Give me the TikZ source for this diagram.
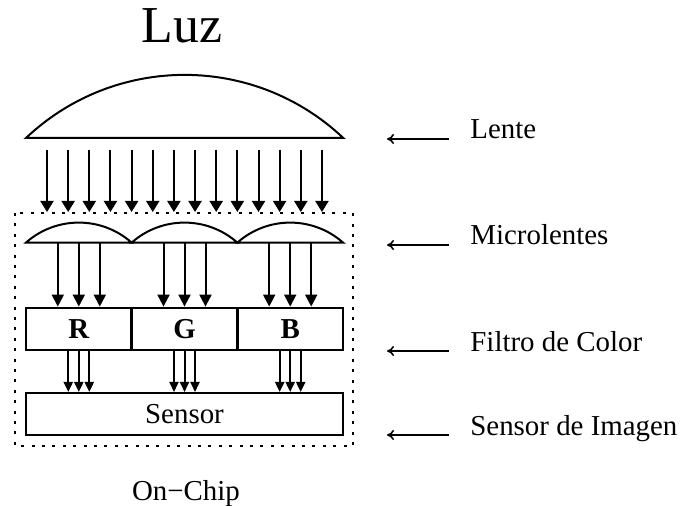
\documentclass[tikz,border=0pt]{standalone}
\usepackage{fontspec}
\setmainfont{Liberation Serif}
\usetikzlibrary{positioning, arrows.meta, calc}
\tikzset{
  % --- optics ---
  lensline/.style={line width=1bp},
  ray/.style={-{Triangle[length=5.5bp, width=6.5bp]}, line width=1bp},
  microray/.style={-{Triangle[length=6bp, width=6bp]}, line width=1bp},
  subray/.style={-{Triangle[length=5bp, width=4.5bp]}, line width=1bp},
  % --- chip layers ---
  filterbox/.style={draw, line width=1.4bp, minimum width=52.8bp, minimum height=21bp,
    inner sep=0pt, font=\fontsize{14.5}{17}\selectfont\bfseries},
  sensorbox/.style={draw, line width=1bp, minimum width=158.5bp, minimum height=21bp,
    inner sep=0pt, font=\fontsize{14.5}{17}\selectfont},
  chipframe/.style={dash pattern=on 1.5bp off 3.7bp, line width=1bp},
  % --- side labels ---
  layerlabel/.style={anchor=base west, inner sep=0pt, font=\fontsize{14.5}{17}\selectfont},
  pointer/.style={-{To[length=3.5bp, width=5bp]}, line width=0.8bp},
}

\begin{document}
\begin{tikzpicture}[x=0.5bp, y=-0.5bp]
    \useasboundingbox (0,0) rectangle (685,506);
    % title
    \node[anchor=base, inner sep=0pt, font=\fontsize{26}{31}\selectfont] (luz) at (182,43) {Luz};
    % main lens
    \coordinate (lensL) at (26,138);
    \draw[lensline] (lensL) arc[start angle=-133.4, end angle=-46.6, radius=230.9] -- cycle;
    \foreach \i in {0,...,13}{
      \coordinate (r\i) at (47+21.15*\i,150);
      \coordinate (s\i) at (47+21.15*\i,212);
      \draw[ray] (r\i) -- (s\i); }
    % on-chip frame
    \draw[chipframe] (15,213) rectangle (353,446);
    % filters and sensor
    \node[filterbox] (R) at (78.8,329)  {R};
    \node[filterbox] (G) at (184.5,329) {G};
    \node[filterbox] (B) at (290.2,329) {B};
    \node[sensorbox] (sensor) at (184.5,414) {Sensor};
    % microlenses
    \foreach \f in {R,G,B}{
      \coordinate (m\f) at ($(\f.north)+(0,-64)$);
      \draw[lensline] ($(m\f)+(-52.8,0)$) arc[start angle=-131.5, end angle=-48.5, radius=79.7] -- cycle;
      \foreach \dx in {-21,0,21}{
        \draw[microray] ($(m\f)+(\dx,0)$) -- ($(\f.north)+(\dx,0)$); }
      \foreach \dx in {-10.5,0,10.5}{
        \draw[subray] ($(\f.south)+(\dx,0)$) -- ($(\f.south |- sensor.north)+(\dx,0)$); }
    }
    % side labels
    \node[layerlabel] (lente)  at (470,139) {Lente};
    \node[layerlabel] (micro)  at (470,245) {Microlentes};
    \node[layerlabel] (filtro) at (470,351) {Filtro de Color};
    \node[layerlabel] (imagen) at (470,435) {Sensor de Imagen};
    \foreach \l in {lente,micro,filtro,imagen}{
      \draw[pointer] ($(\l.base west)+(-21,0)$) -- ($(\l.base west)+(-83,0)$); }
    \node[anchor=base, inner sep=0pt, font=\fontsize{14.5}{17}\selectfont] (onchip) at (186,500) {On−Chip};
  \end{tikzpicture}
\end{document}
